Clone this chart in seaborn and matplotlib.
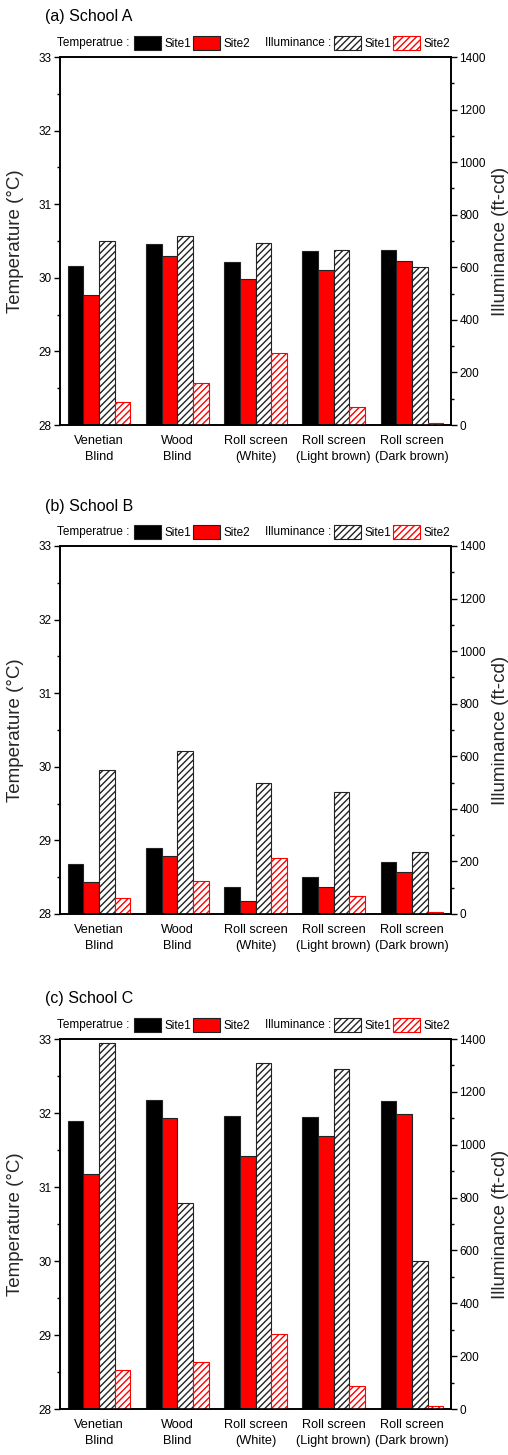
import numpy as np
import pandas as pd
import seaborn as sns
import matplotlib.pyplot as plt
from matplotlib.patches import Patch
from matplotlib.ticker import MultipleLocator

sns.set_style("ticks", {"axes.edgecolor": "black", "text.color": "black",
                        "xtick.color": "black", "ytick.color": "black"})
plt.rcParams['font.family'] = ['Liberation Sans', 'DejaVu Sans']
plt.rcParams['hatch.linewidth'] = 1.0

# ------------------ data ------------------
categories = ["Venetian\nBlind", "Wood\nBlind", "Roll screen\n(White)",
              "Roll screen\n(Light brown)", "Roll screen\n(Dark brown)"]

# (a) School A
temp_site1_a = [30.16, 30.46, 30.21, 30.37, 30.38]
temp_site2_a = [29.77, 30.30, 29.98, 30.10, 30.23]
illum_site1_a = [700, 718, 692, 664, 601]
illum_site2_a = [87, 161, 273, 68, 9]

# (b) School B
temp_site1_b = [28.68, 28.89, 28.37, 28.50, 28.71]
temp_site2_b = [28.43, 28.79, 28.17, 28.37, 28.57]
illum_site1_b = [549, 622, 499, 465, 237]
illum_site2_b = [60, 125, 213, 68, 6]

# (c) School C
temp_site1_c = [31.89, 32.17, 31.96, 31.95, 32.16]
temp_site2_c = [31.17, 31.93, 31.42, 31.69, 31.98]
illum_site1_c = [1385, 780, 1308, 1287, 559]
illum_site2_c = [148, 179, 282, 87, 10]

hue_order = ["T1", "T2", "I1", "I2"]
palette = {"T1": "black", "T2": "red", "I1": "white", "I2": "white"}
HATCH = "/////"

W, H = 508, 1455
fig = plt.figure(figsize=(W / 100, H / 100), dpi=100)

AX_L, AX_R = 60, 451


def draw_panel(top, bottom, title, title_y, t1, t2, i1, i2):
    ax = fig.add_axes([AX_L / W, 1 - bottom / H, (AX_R - AX_L) / W, (bottom - top) / H])
    ax2 = ax.twinx()

    df_t = pd.DataFrame({"cat": categories * 2,
                         "series": ["T1"] * 5 + ["T2"] * 5,
                         "value": t1 + t2})
    df_i = pd.DataFrame({"cat": categories * 2,
                         "series": ["I1"] * 5 + ["I2"] * 5,
                         "value": i1 + i2})

    sns.barplot(data=df_t, x="cat", y="value", hue="series", order=categories,
                hue_order=hue_order, palette=palette, errorbar=None,
                saturation=1, legend=False, ax=ax)
    sns.barplot(data=df_i, x="cat", y="value", hue="series", order=categories,
                hue_order=hue_order, palette=palette, errorbar=None,
                saturation=1, legend=False, ax=ax2)

    # seaborn leaves empty containers for the hue levels that are absent
    temp_bars = [c for c in ax.containers if len(c)]
    illum_bars = [c for c in ax2.containers if len(c)]

    for cont in temp_bars:
        for bar in cont:
            bar.set_edgecolor("#222222")
            bar.set_linewidth(0.8)
    for bar in illum_bars[0]:
        bar.set_facecolor("white")
        bar.set_edgecolor("#222222")
        bar.set_hatch(HATCH)
        bar.set_linewidth(0.8)
    for bar in illum_bars[1]:
        bar.set_facecolor("white")
        bar.set_edgecolor("red")
        bar.set_hatch(HATCH)
        bar.set_linewidth(0.8)

    ax.set_ylim(28, 33)
    ax2.set_ylim(0, 1400)
    ax.yaxis.set_major_locator(MultipleLocator(1))
    ax.yaxis.set_minor_locator(MultipleLocator(0.5))
    ax2.yaxis.set_major_locator(MultipleLocator(200))
    ax2.yaxis.set_minor_locator(MultipleLocator(100))

    ax.set_xlim(-0.5, 4.5)
    ax.set_xticks(range(5))
    ax.set_xticklabels(categories, fontsize=9.2, linespacing=1.5)
    ax.tick_params(axis="x", length=0, pad=7)
    ax.tick_params(axis="y", which="major", direction="out", length=4.5,
                   width=1, labelsize=8.5, pad=1.5)
    ax.tick_params(axis="y", which="minor", direction="out", length=2.5, width=1)
    ax2.tick_params(axis="y", which="major", direction="out", length=4,
                    width=1, labelsize=8.5, pad=2)
    ax2.tick_params(axis="y", which="minor", direction="out", length=2.5, width=1)

    for a in (ax, ax2):
        for s in a.spines.values():
            s.set_linewidth(1.2)
            s.set_color("black")
            s.set_visible(True)

    ax.set_xlabel("")
    ax2.set_xlabel("")
    ax.set_ylabel("Temperature (°C)", fontsize=13.5)
    ax2.set_ylabel("Illuminance (ft-cd)", fontsize=13.5)
    ax.yaxis.set_label_coords((24 - AX_L) / (AX_R - AX_L), 0.5)
    ax2.yaxis.set_label_coords((492 - AX_L) / (AX_R - AX_L), 0.5)

    fig.text(45 / W, 1 - title_y / H, title, fontsize=11.5, va="center", ha="left")

    # legend row above the frame
    ly = 1 + 14 / (bottom - top)
    span = AX_R - AX_L
    ax2.text((57 - AX_L) / span, ly, "Temperatrue :", transform=ax2.transAxes,
             fontsize=8.5, va="center", ha="left", clip_on=False)
    ax2.text((265 - AX_L) / span, ly, "Illuminance :", transform=ax2.transAxes,
             fontsize=8.5, va="center", ha="left", clip_on=False)
    h_t = [Patch(facecolor="black", edgecolor="#222222", linewidth=0.8),
           Patch(facecolor="red", edgecolor="#222222", linewidth=0.8)]
    h_i = [Patch(facecolor="white", edgecolor="#222222", hatch=HATCH, linewidth=0.8),
           Patch(facecolor="white", edgecolor="red", hatch=HATCH, linewidth=0.8)]
    common = dict(ncol=2, frameon=False, fontsize=8.5, handlelength=2.3,
                  handleheight=1.45, handletextpad=0.25, columnspacing=0.2,
                  borderpad=0, borderaxespad=0, loc="center left")
    leg1 = ax2.legend(h_t, ["Site1", "Site2"],
                      bbox_to_anchor=((134 - AX_L) / span, ly), **common)
    ax2.add_artist(leg1)
    ax2.legend(h_i, ["Site1", "Site2"],
               bbox_to_anchor=((334 - AX_L) / span, ly), **common)


draw_panel(57, 425, "(a) School A", 17,
           temp_site1_a, temp_site2_a, illum_site1_a, illum_site2_a)
draw_panel(546, 914, "(b) School B", 506,
           temp_site1_b, temp_site2_b, illum_site1_b, illum_site2_b)
draw_panel(1039, 1409, "(c) School C", 998,
           temp_site1_c, temp_site2_c, illum_site1_c, illum_site2_c)

fig.savefig("out.png", dpi=100)
